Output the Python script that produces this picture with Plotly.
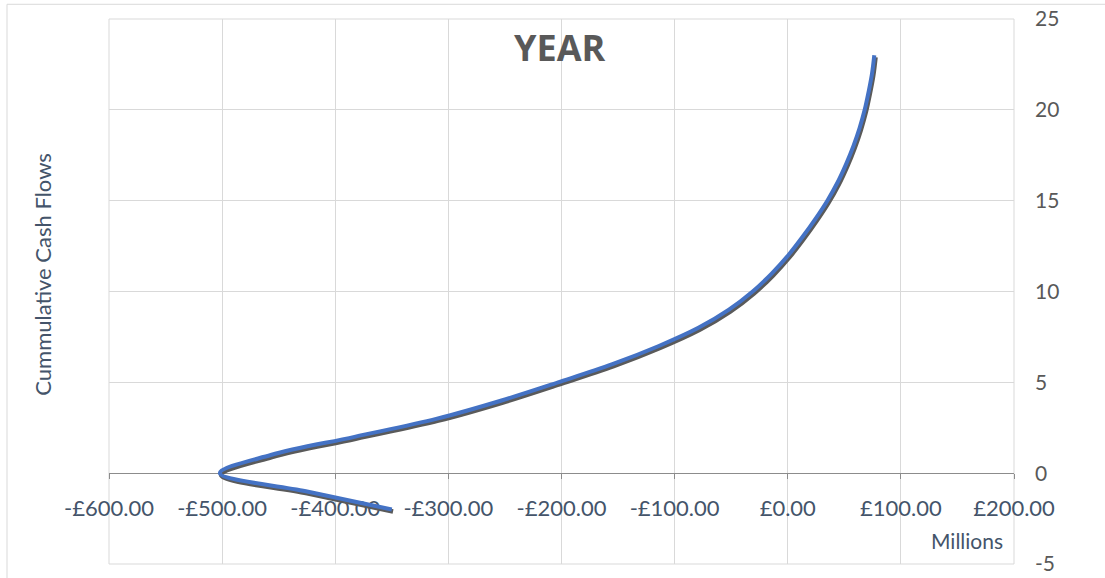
import plotly.graph_objects as go

# Data
years = [-2, -1, 0, 1, 2, 3, 4, 5, 6, 7, 8, 9, 10, 11, 12, 13, 14, 15, 16, 17, 18, 19, 20, 21, 22, 23]
cumulative_cash_flow = [-350, -426, -502, -457, -383, -310, -253, -203, -155, -114, -79, -52,
                        -31, -14, 0.5, 13, 24.5, 35, 44, 51.5, 58, 63.5, 68, 71.5, 74.5, 76.5]

x_tick_values = [-600, -500, -400, -300, -200, -100, 0, 100, 200]
x_tick_labels = ["-£600.00", "-£500.00", "-£400.00", "-£300.00", "-£200.00",
                 "-£100.00", "£0.00", "£100.00", "£200.00"]
y_tick_values = [-5, 0, 5, 10, 15, 20, 25]
y_tick_labels = ["-5", "0", "5", "10", "15", "20", "25"]

FONT = "Lato"
SLATE = "#44546A"
GREY = "#595959"

# soft drop shadow offset (data units)
shadow_dx, shadow_dy = 1.1, -0.11

fig = go.Figure()
fig.add_trace(go.Scatter(
    x=[v + shadow_dx for v in cumulative_cash_flow],
    y=[v + shadow_dy for v in years],
    mode="lines",
    line=dict(color="#5a5a5a", width=4.5, shape="spline", smoothing=1),
    hoverinfo="skip", showlegend=False,
))
fig.add_trace(go.Scatter(
    x=cumulative_cash_flow, y=years,
    mode="lines",
    line=dict(color="#4472C4", width=4, shape="spline", smoothing=1),
    name="Cumulative Cash Flows", showlegend=False,
))

fig.update_layout(
    width=1105, height=578,
    margin=dict(l=109, r=91, t=19, b=14),
    paper_bgcolor="white", plot_bgcolor="white",
    font=dict(family=FONT, color=SLATE),
    xaxis=dict(
        range=[-600, 200],
        tickvals=x_tick_values, ticktext=x_tick_labels,
        tickfont=dict(family=FONT, size=22, color=SLATE),
        showgrid=True, gridcolor="#d9d9d9", gridwidth=1,
        zeroline=False,
        showline=True, linecolor="#8c8c8c", linewidth=1,
        ticks="outside", ticklen=5, tickcolor="#8c8c8c",
        ticklabelstandoff=10,
        anchor="free", position=5 / 30,
        layer="below traces",
        automargin=False,
        fixedrange=True,
    ),
    yaxis=dict(
        range=[-5, 25],
        tickvals=y_tick_values, ticktext=y_tick_labels,
        side="right",
        tickfont=dict(family=FONT, size=21, color=GREY),
        showgrid=True, gridcolor="#d9d9d9", gridwidth=1,
        zeroline=False, showline=False, ticks="",
        ticklabelstandoff=20,
        layer="below traces",
        automargin=False,
        fixedrange=True,
    ),
    shapes=[
        dict(type="rect", xref="paper", yref="paper",
             x0=-0.1127, x1=1.3, y0=-0.2, y1=1.027,
             line=dict(color="#d9d9d9", width=1), fillcolor="rgba(0,0,0,0)",
             layer="below"),
        dict(type="rect", xref="paper", yref="paper",
             x0=0, x1=1, y0=0, y1=1,
             line=dict(color="#d9d9d9", width=1), fillcolor="rgba(0,0,0,0)",
             layer="below"),
    ],
    annotations=[
        dict(text="<b>YEAR</b>", xref="paper", yref="paper", x=0.498, y=0.948,
             xanchor="center", yanchor="middle", showarrow=False,
             font=dict(family="Open Sans", size=36, color=GREY)),
        dict(text="Cummulative Cash Flows", xref="paper", yref="paper",
             x=-0.0744, y=0.532, xanchor="center", yanchor="middle",
             textangle=-90, showarrow=False,
             font=dict(family=FONT, size=22, color=SLATE)),
        dict(text="Millions", xref="paper", yref="paper",
             x=0.99, y=0.043, xanchor="right", yanchor="middle",
             showarrow=False, font=dict(family=FONT, size=21, color=SLATE)),
    ],
)

fig.write_html("out.html")
